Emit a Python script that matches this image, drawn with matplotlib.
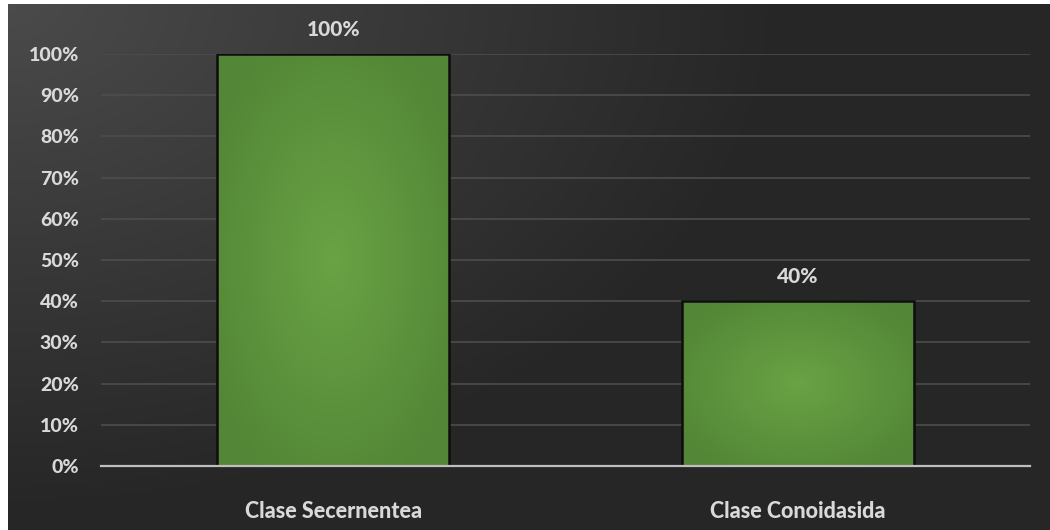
import numpy as np
import matplotlib
matplotlib.use("Agg")
import matplotlib.pyplot as plt
from matplotlib.ticker import FuncFormatter

categories = ["Clase Secernentea", "Clase Conoidasida"]
values = [1.00, 0.40]
yticks = [0, 0.1, 0.2, 0.3, 0.4, 0.5, 0.6, 0.7, 0.8, 0.9, 1.0]

W, H, DPI = 1050, 530, 100
fig = plt.figure(figsize=(W / DPI, H / DPI), dpi=DPI, facecolor="white")

# Background panel: dark gradient, lighter toward the upper left
bg = fig.add_axes([0, 0, 1, 1], zorder=0)
bg.set_axis_off()
yy, xx = np.mgrid[0:H, 0:W]
d = np.sqrt((xx / W) ** 2 * 1.0 + (yy / H) ** 2 * 0.6)
d = np.clip(d / 0.75, 0, 1)
light = np.array([0x4b, 0x4b, 0x4b]) / 255
dark = np.array([0x26, 0x26, 0x26]) / 255
img = light[None, None, :] * (1 - d[..., None]) + dark[None, None, :] * d[..., None]
# thin white margin on the left and top
img[:, :8, :] = 1.0
img[:4, :, :] = 1.0
bg.imshow(img, extent=[0, 1, 0, 1], aspect="auto", origin="upper")
bg.set_xlim(0, 1)
bg.set_ylim(0, 1)

ax = fig.add_axes([101 / W, (H - 466) / H, (1030 - 101) / W, (466 - 54) / H], zorder=1)
ax.set_facecolor("none")
x = np.arange(len(categories))
bars = ax.bar(x, values, width=0.5, color="#5b9440", edgecolor="#0d0d0d",
              linewidth=1.8, zorder=3)
ax.set_xlim(-0.5, len(categories) - 0.5)
ax.set_ylim(0, 1.0)

# Radial green shading inside each bar
g = np.linspace(-1, 1, 200)
gx, gy = np.meshgrid(g, g)
r = np.clip(np.sqrt(gx ** 2 + gy ** 2) / 1.2, 0, 1)
c_in = np.array([0x69, 0xa3, 0x45]) / 255
c_out = np.array([0x53, 0x86, 0x36]) / 255
shade = c_in[None, None, :] * (1 - r[..., None]) + c_out[None, None, :] * r[..., None]
for b in bars:
    x0, y0 = b.get_x(), b.get_y()
    im = ax.imshow(shade, extent=[x0, x0 + b.get_width(), y0, y0 + b.get_height()],
                   aspect="auto", zorder=3.5, interpolation="bilinear")
    im.set_clip_path(b)
    b.set_facecolor("none")
    b.set_zorder(4)

ax.set_yticks(yticks)
ax.yaxis.set_major_formatter(FuncFormatter(lambda v, p: f"{v * 100:.0f}%"))
ax.set_xticks(x)
ax.set_xticklabels(categories)

fam = ["Lato", "DejaVu Sans"]
for lab in ax.get_yticklabels():
    lab.set_fontfamily(fam)
    lab.set_fontweight(900)
    lab.set_fontsize(14)
    lab.set_color("#d9d9d9")
for lab in ax.get_xticklabels():
    lab.set_fontfamily(fam)
    lab.set_fontweight(900)
    lab.set_fontsize(15.5)
    lab.set_color("#d9d9d9")
ax.tick_params(axis="y", length=0, pad=16)
ax.tick_params(axis="x", length=0, pad=25)

ax.grid(axis="y", color="#4d4d4d", linewidth=1.2, zorder=1)
ax.set_axisbelow(True)
for s in ["left", "right", "top"]:
    ax.spines[s].set_visible(False)
ax.spines["bottom"].set_color("#bfbfbf")
ax.spines["bottom"].set_linewidth(1.6)
ax.spines["bottom"].set_zorder(5)

for b, v in zip(bars, values):
    ax.annotate(f"{v * 100:.0f}%", (b.get_x() + b.get_width() / 2, v),
                xytext=(0, 18), textcoords="offset points",
                ha="center", va="center", color="#d9d9d9", annotation_clip=False,
                family=fam, weight=900, size=15)

fig.savefig("out.png", dpi=DPI)
